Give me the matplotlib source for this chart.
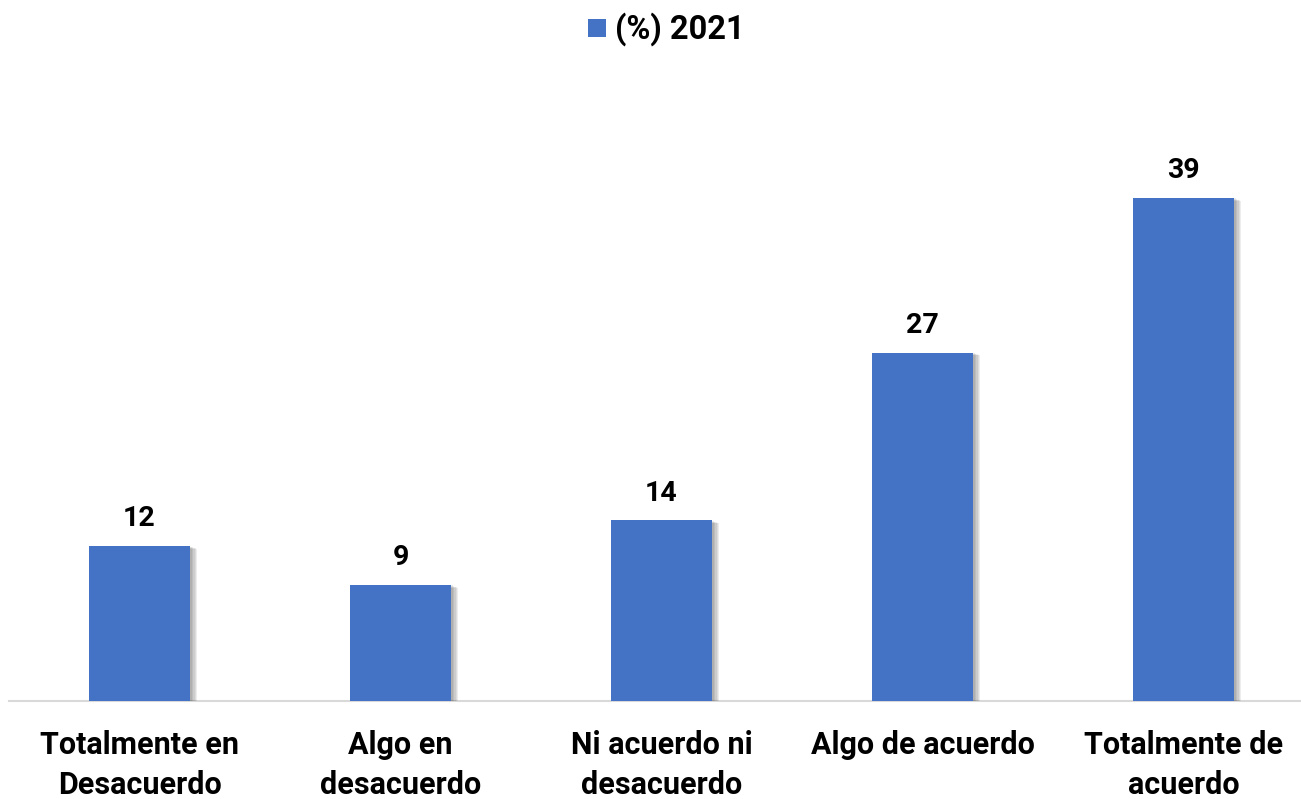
import matplotlib
matplotlib.use("Agg")
import matplotlib.pyplot as plt
import matplotlib.patheffects as pe
from matplotlib.patches import Rectangle

categories = ["Totalmente en\nDesacuerdo", "Algo en\ndesacuerdo", "Ni acuerdo ni\ndesacuerdo",
              "Algo de acuerdo", "Totalmente de\nacuerdo"]
values = [12, 9, 14, 27, 39]
series_name = "(%) 2021"
bar_color = "#4472C4"

plt.rcParams["font.family"] = ["Roboto", "DejaVu Sans"]
weight = "bold"

W, H = 1301, 799
fig = plt.figure(figsize=(W / 100, H / 100), dpi=100)
# plot area: baseline at y=701 px, categories spaced 261 px apart
left_px, right_px = 9, 1314
bottom_px, top_px = 701, 100
ax = fig.add_axes([left_px / W, 1 - bottom_px / H, (right_px - left_px) / W, (bottom_px - top_px) / H])

x = list(range(len(values)))
bars = ax.bar(x, values, width=0.39, color=bar_color, zorder=3)
# soft drop shadow: several faint offset layers
shadow = [pe.SimplePatchShadow(offset=(d, -d * 0.4), shadow_rgbFace="#000000", alpha=0.07)
          for d in (1, 2, 3, 4, 5)]
for b in bars:
    b.set_path_effects(shadow + [pe.Normal()])

ax.set_xlim(-0.5, len(values) - 0.5)
ax.set_ylim(0, (bottom_px - top_px) / 12.9)

for xi, v in zip(x, values):
    ax.annotate(f"{v}", (xi, v), xytext=(0, 10), textcoords="offset points",
                ha="center", va="bottom", fontsize=20.5, fontweight=weight, color="black")

ax.set_xticks(x)
ax.set_xticklabels(categories, fontsize=22, fontweight=weight, linespacing=1.42)
ax.tick_params(axis="x", length=0, pad=21)
ax.set_yticks([])
for s in ["top", "right", "left"]:
    ax.spines[s].set_visible(False)
ax.spines["bottom"].set_color("#D9D9D9")
ax.spines["bottom"].set_linewidth(1.5)

# legend at the top
fig.patches.append(Rectangle((588 / W, 1 - 37 / H), 18 / W, 18 / H, transform=fig.transFigure,
                             facecolor=bar_color, edgecolor="none"))
fig.text(615 / W, 1 - 29 / H, series_name, ha="left", va="center", fontsize=23.5, fontweight=weight)

fig.savefig("out.png", dpi=100)
